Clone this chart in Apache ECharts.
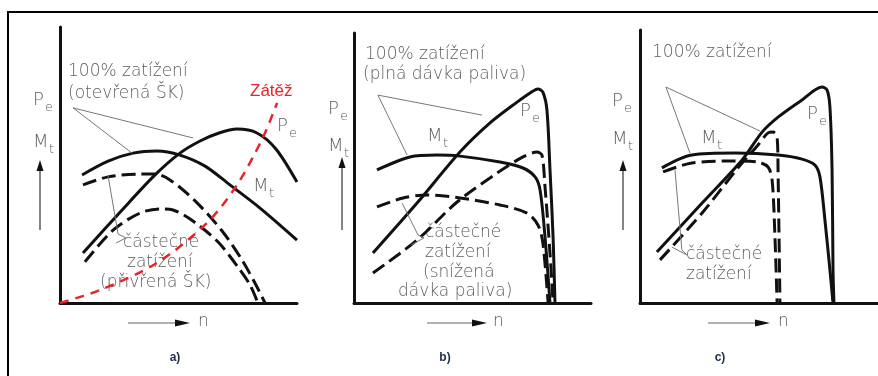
<!DOCTYPE html>
<html>
<head>
<meta charset="utf-8">
<script src="https://cdn.jsdelivr.net/npm/echarts@6/dist/echarts.min.js"></script>
<style>
  html, body { margin: 0; padding: 0; background: #fff; }
  #chart { width: 878px; height: 376px; }
</style>
</head>
<body>
<div id="chart"></div>
<script>
// Relative engine speed n (0–100) against power Pe / torque Mt (0–100).

// a) spark-ignition engine, throttle control
const aPeFull = [[9.7,18.1],[26.2,33.7],[40.1,46.4],[50.6,54.3],[59.1,58.7],[67.1,61.6],[74.7,63.0],[83.1,61.6],[91.1,55.8],[100,43.8]];
const aMtFull = [[9.3,46.4],[20.3,51.4],[30.8,54.3],[40.9,55.1],[50.6,53.6],[61.2,49.6],[71.7,42.8],[84.4,34.4],[100,22.8]];
const aPePart = [[10.5,14.9],[22.4,26.4],[33.8,32.6],[42.2,34.1],[47.7,33.7],[56.1,29.7],[66.7,22.1],[75.1,13.0],[80.2,6.5],[83.5,0]];
const aMtPart = [[9.7,42.8],[20.3,45.7],[32.9,46.7],[40.1,46.7],[46.4,44.6],[57.0,37.0],[68.4,26.1],[76.8,15.6],[82.7,6.5],[86.5,0]];
const aLoad   = [[0,0],[16.9,4.7],[40.9,14.5],[62.0,29.0],[74.7,42.8],[85.7,60.1],[91.6,72.5]];

// b) diesel engine, fuel quantity control
const bPeFull = [[8.0,18.5],[26.6,37.0],[44.7,55.9],[57.4,66.7],[68.8,74.4],[74.3,77.8],[77.6,79.3],[79.7,78.1],[81.4,71.5],[82.7,49.3],[84.0,24.4],[84.8,0]];
const bMtFull = [[9.7,49.3],[23.6,54.1],[35.0,54.8],[44.7,54.4],[61.6,52.2],[71.3,50.0],[76.4,46.7],[78.5,41.9],[80.6,24.4],[82.7,0]];
const bPePart = [[8.0,11.1],[26.6,23.3],[43.5,37.4],[60.3,48.1],[71.3,54.1],[77.2,55.9],[79.3,54.8],[80.6,43.0],[82.7,18.5],[84.0,0]];
const bMtPart = [[9.7,35.6],[20.7,38.9],[30.8,40.0],[44.7,38.9],[61.6,36.3],[73.0,33.3],[77.6,28.9],[79.7,22.2],[81.9,0]];

// c) governed engine
const cPeFull = [[7.1,18.7],[26.1,36.6],[42.9,52.4],[51.3,62.6],[58.0,68.1],[68.1,74.4],[76.5,79.1],[78.6,78.0],[79.8,71.8],[80.7,48.7],[81.1,12.1],[81.5,0]];
const cMtFull = [[9.2,49.5],[21.8,54.2],[39.9,54.9],[58.0,54.2],[68.1,52.7],[73.5,50.5],[75.6,46.2],[77.7,30.4],[79.8,12.1],[81.1,0]];
const cPePart = [[8.4,15.8],[26.1,33.0],[41.2,49.5],[49.6,57.9],[53.8,62.3],[55.9,62.6],[57.6,60.8],[58.0,48.7],[58.8,0]];
const cMtPart = [[9.7,48.0],[21.8,51.3],[39.9,52.0],[49.6,51.6],[53.8,49.8],[55.5,45.1],[56.7,24.2],[57.6,0]];

// leader lines from the captions to the curves
const aLeadFull1 = [[5.5,70.7],[30.4,54.3]];
const aLeadFull2 = [[5.5,70.7],[56.1,59.8]];
const aLeadPart1 = [[20.3,46.0],[24.5,25.0],[27.8,23.6]];
const aLeadPart2 = [[23.6,21.7],[27.8,23.6]];
const bLeadFull1 = [[10.1,77.0],[22.4,54.8]];
const bLeadFull2 = [[10.1,77.0],[54.0,69.6]];
const bLeadPart1 = [[20.3,37.0],[27.0,25.2],[29.5,24.1]];
const bLeadPart2 = [[24.1,21.5],[29.5,24.1]];
const cLeadFull1 = [[10.9,79.1],[21.0,54.9]];
const cLeadFull2 = [[10.9,79.1],[50.4,63.0]];
const cLeadPart1 = [[14.7,48.7],[17.6,19.4],[19.7,17.6]];
const cLeadPart2 = [[13.4,20.5],[19.7,17.6]];

const panelLetters = ['a)', 'b)', 'c)'];

const INK = '#111';
const GREY = '#5e5e5e';
const FONT = '"DejaVu Sans", Roboto, sans-serif';
const DASH = [14, 6];

const grids = [
  { left: 60,  top: 27, width: 237, height: 276 },
  { left: 354, top: 33, width: 237, height: 270 },
  { left: 640, top: 30, width: 238, height: 273 }
];

function axisDef(i) {
  return {
    type: 'value', gridIndex: i, min: 0, max: 100,
    axisLine: { show: true, onZero: false, lineStyle: { color: INK, width: 3 } },
    axisTick: { show: false }, axisLabel: { show: false }, splitLine: { show: false }
  };
}

function curve(data, idx, dashed, extra) {
  return Object.assign({
    type: 'line', data: data, xAxisIndex: idx, yAxisIndex: idx,
    symbol: 'none', smooth: 0.3, silent: true,
    lineStyle: { color: INK, width: 3, type: dashed ? DASH : 'solid', cap: 'butt' }
  }, extra || {});
}

function leader(data, idx) {
  return {
    type: 'line', data: data, xAxisIndex: idx, yAxisIndex: idx,
    symbol: 'none', smooth: false, silent: true,
    lineStyle: { color: '#777', width: 1 }
  };
}

const series = [
  curve(aPeFull, 0, false), curve(aMtFull, 0, false),
  curve(aPePart, 0, true),  curve(aMtPart, 0, true),
  curve(aLoad, 0, true, { lineStyle: { color: '#e8232b', width: 2.5, type: [9, 7] } }),
  curve(bPeFull, 1, false), curve(bMtFull, 1, false),
  curve(bPePart, 1, true),  curve(bMtPart, 1, true),
  curve(cPeFull, 2, false), curve(cMtFull, 2, false),
  curve(cPePart, 2, true),  curve(cMtPart, 2, true),
  leader(aLeadFull1, 0), leader(aLeadFull2, 0), leader(aLeadPart1, 0), leader(aLeadPart2, 0),
  leader(bLeadFull1, 1), leader(bLeadFull2, 1), leader(bLeadPart1, 1), leader(bLeadPart2, 1),
  leader(cLeadFull1, 2), leader(cLeadFull2, 2), leader(cLeadPart1, 2), leader(cLeadPart2, 2)
];

// text helpers
function txt(str, x, y, opt) {
  opt = opt || {};
  return {
    type: 'text', x: x, y: y, silent: true,
    style: {
      text: str, x: 0, y: 0,
      fill: opt.color || GREY,
      font: (opt.weight || '200') + ' ' + (opt.size || 17) + 'px ' + (opt.family || FONT),
      textAlign: opt.align || 'left', textVerticalAlign: 'middle'
    }
  };
}
function sub(main, s, x, y) {
  const dx = main === 'M' ? 16 : 12;
  return [
    txt(main, x, y, { size: 18 }),
    txt(s, x + dx, y + 8, { size: 13 })
  ];
}
function upArrow(x, y1, y2) {
  return [
    { type: 'line', silent: true, shape: { x1: x, y1: y1, x2: x, y2: y2 + 8 }, style: { stroke: '#333', lineWidth: 1.2 } },
    { type: 'polygon', silent: true, shape: { points: [[x, y2], [x - 3.5, y2 + 11], [x + 3.5, y2 + 11]] }, style: { fill: '#111' } }
  ];
}
function rightArrow(x1, x2, y) {
  return [
    { type: 'line', silent: true, shape: { x1: x1, y1: y, x2: x2 - 8, y2: y }, style: { stroke: '#666', lineWidth: 1.2 } },
    { type: 'polygon', silent: true, shape: { points: [[x2, y], [x2 - 15, y - 3.5], [x2 - 15, y + 3.5]] }, style: { fill: '#111' } }
  ];
}
function letter(s, x) {
  return txt(s, x, 358, { color: '#1f2d4d', weight: 'bold', size: 12, align: 'center', family: '"Liberation Sans", Arial, sans-serif' });
}

const graphics = [].concat(
  // outer frame
  [{ type: 'polyline', silent: true, shape: { points: [[8, 376], [8, 12], [878, 12]] }, style: { stroke: '#000', lineWidth: 2, fill: null } }],

  // a)
  [txt('100% zatížení', 68, 72), txt('(otevřená ŠK)', 68, 94)],
  sub('P', 'e', 33, 100), sub('M', 't', 33, 142),
  upArrow(40, 230, 160),
  [txt('Zátěž', 250, 91, { color: '#e8232b', size: 17, weight: 'normal', family: '"Liberation Sans", Arial, sans-serif' })],
  sub('P', 'e', 277, 126),
  sub('M', 't', 253, 186),
  [txt('částečné', 123, 243), txt('zatížení', 127, 263), txt('(přivřená ŠK)', 100, 283)],
  rightArrow(128, 190, 323), [txt('n', 198, 322, { size: 17 })],
  [letter(panelLetters[0], 175)],

  // b)
  [txt('100% zatížení', 365, 55), txt('(plná dávka paliva)', 363, 75)],
  sub('P', 'e', 328, 109), sub('M', 't', 328, 146),
  upArrow(342, 230, 157),
  sub('P', 'e', 520, 111),
  sub('M', 't', 427, 136),
  [txt('částečné', 425, 233), txt('zatížení', 425, 253), txt('(snížená', 423, 273), txt('dávka paliva)', 398, 292)],
  rightArrow(427, 487, 323), [txt('n', 493, 322, { size: 17 })],
  [letter(panelLetters[1], 445)],

  // c)
  [txt('100% zatížení', 652, 53)],
  sub('P', 'e', 612, 101), sub('M', 't', 612, 139),
  upArrow(623, 230, 160),
  sub('P', 'e', 807, 114),
  sub('M', 't', 701, 138),
  [txt('částečné', 686, 255), txt('zatížení', 686, 275)],
  rightArrow(708, 770, 323), [txt('n', 778, 322, { size: 17 })],
  [letter(panelLetters[2], 720)]
);

const chart = echarts.init(document.getElementById('chart'), null, { renderer: 'canvas' });
chart.setOption({
  animation: false,
  backgroundColor: '#fff',
  grid: grids,
  xAxis: [axisDef(0), axisDef(1), axisDef(2)],
  yAxis: [axisDef(0), axisDef(1), axisDef(2)],
  series: series,
  graphic: graphics
});
</script>
</body>
</html>
